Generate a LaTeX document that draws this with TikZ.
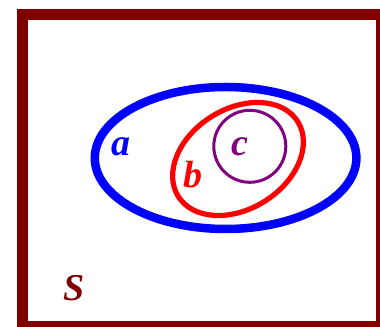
\documentclass[tikz,border=0pt]{standalone}
\usepackage{fontspec}
\setmainfont{Liberation Serif}
\usepackage{tikz}

\definecolor{bordeaux}{RGB}{128,0,0}
\definecolor{viola}{RGB}{128,0,128}

\begin{document}
\begin{tikzpicture}[etichetta/.style={font=\fontsize{27}{30}\selectfont\bfseries\itshape, inner sep=0pt}]
				\useasboundingbox (0, 0) rectangle (9.5, 8.175);
				
				% Insieme universo S
				\draw[bordeaux, line width=0.275cm] (0.55, 0.0125) rectangle (9.5375, 7.8);
				\node[etichetta, text=bordeaux] (S) at (1.85, 0.975) {S};
				
				% Insieme a
				\draw[blue, line width=0.2125cm] (5.64, 4.225) ellipse (3.27 and 1.775);
				\node[etichetta, text=blue] (a) at (3.025, 4.5075) {a};
				
				% Insieme b contenuto in a
				\draw[red, line width=0.13cm, rotate around={32:(5.95, 4.2)}] (5.95, 4.2) ellipse (1.7625 and 1.25);
				\node[etichetta, text=red] (b) at (4.825, 3.8) {b};
				
				% Insieme c contenuto in b
				\draw[viola, line width=0.075cm] (6.245, 4.5175) circle (0.9);
				\node[etichetta, text=viola] (c) at (6.0, 4.5075) {c};
			\end{tikzpicture}
\end{document}
